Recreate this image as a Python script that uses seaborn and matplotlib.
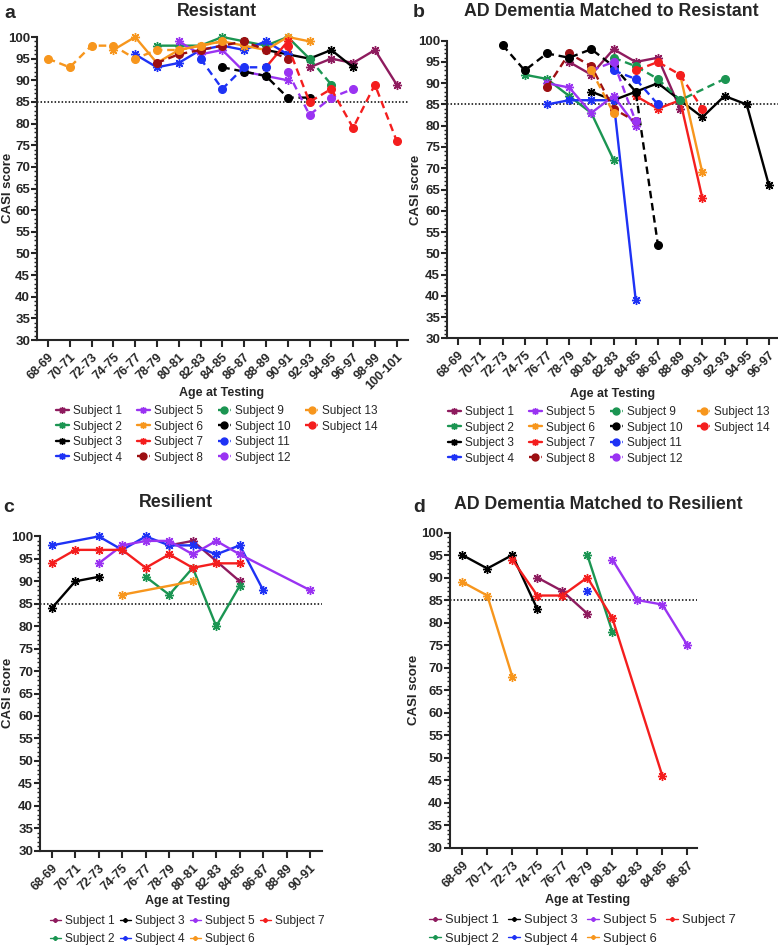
import pandas as pd
import numpy as np
import matplotlib.pyplot as plt
from matplotlib.ticker import MultipleLocator
from matplotlib.lines import Line2D
import seaborn as sns

sns.set_style('ticks')
plt.rcParams['font.family'] = ['Liberation Sans', 'DejaVu Sans']

# age bins on the x axis
ages_all = ['68-69', '70-71', '72-73', '74-75', '76-77', '78-79', '80-81', '82-83',
            '84-85', '86-87', '88-89', '90-91', '92-93', '94-95', '96-97', '98-99', '100-101']
ages_a = ages_all
ages_b = ages_all[:15]
ages_c = ages_all[:12]
ages_d = ages_all[:10]

# a: Resistant
res_ages = {
    1: ['92-93', '94-95', '96-97', '98-99', '100-101'],
    2: ['78-79', '80-81', '82-83', '84-85', '86-87', '88-89', '90-91', '92-93'],
    3: ['88-89', '90-91', '92-93', '94-95', '96-97'],
    4: ['76-77', '78-79', '80-81', '82-83', '84-85', '86-87', '88-89', '90-91'],
    5: ['80-81', '82-83', '84-85', '86-87', '88-89', '90-91'],
    6: ['74-75', '76-77', '78-79', '80-81', '82-83', '84-85', '86-87', '88-89', '90-91', '92-93'],
    7: ['88-89', '90-91'],
    8: ['78-79', '80-81', '82-83', '84-85', '86-87', '88-89', '90-91'],
    9: ['92-93', '94-95'],
    10: ['84-85', '86-87', '88-89', '90-91', '92-93'],
    11: ['82-83', '84-85', '86-87', '88-89'],
    12: ['90-91', '92-93', '94-95', '96-97'],
    13: ['68-69', '70-71', '72-73', '74-75', '76-77', '78-79', '80-81', '82-83', '84-85'],
    14: ['90-91', '92-93', '94-95', '96-97', '98-99', '100-101'],
}
res_scores = {
    1: [93, 95, 94, 97, 89],
    2: [98, 98, 98, 100, 99, 98, 100, 95],
    3: [97, 96, 95, 97, 93],
    4: [96, 93, 94, 97, 98, 97, 99, 96],
    5: [99, 96, 97, 92, 91, 90],
    6: [97, 100, 94, 97, 98, 99, 98, 97, 100, 99],
    7: [93, 99],
    8: [94, 96, 97, 98, 99, 97, 95],
    9: [95, 89],
    10: [93, 92, 91, 86, 86],
    11: [95, 88, 93, 93],
    12: [92, 82, 86, 88],
    13: [95, 93, 98, 98, 95, 97, 97, 98, 99],
    14: [98, 85, 88, 79, 89, 76],
}

# b: AD dementia matched to resistant
adr_ages = {
    1: ['78-79', '80-81', '82-83', '84-85', '86-87', '88-89'],
    2: ['74-75', '76-77', '78-79', '80-81', '82-83'],
    3: ['80-81', '82-83', '84-85', '86-87', '88-89', '90-91', '92-93', '94-95', '96-97'],
    4: ['76-77', '78-79', '80-81', '82-83', '84-85'],
    5: ['76-77', '78-79', '80-81', '82-83', '84-85'],
    6: ['88-89', '90-91'],
    7: ['84-85', '86-87', '88-89', '90-91'],
    8: ['76-77', '78-79', '80-81', '82-83', '84-85'],
    9: ['82-83', '84-85', '86-87', '88-89', '92-93'],
    10: ['72-73', '74-75', '76-77', '78-79', '80-81', '82-83', '84-85', '86-87'],
    11: ['82-83', '84-85', '86-87'],
    12: ['80-81', '82-83', '84-85'],
    13: ['80-81', '82-83'],
    14: ['84-85', '86-87', '88-89', '90-91'],
}
adr_scores = {
    1: [95, 92, 98, 95, 96, 84],
    2: [92, 91, 87, 83, 72],
    3: [88, 86, 88, 90, 86, 82, 87, 85, 66],
    4: [85, 86, 86, 86, 39],
    5: [90, 89, 83, 87, 80],
    6: [92, 69],
    7: [87, 84, 86, 63],
    8: [89, 97, 94, 84, 81],
    9: [96, 94, 91, 86, 91],
    10: [99, 93, 97, 96, 98, 94, 88, 52],
    11: [93, 91, 85],
    12: [93, 95, 81],
    13: [93, 83],
    14: [93, 95, 92, 84],
}

# c: Resilient
resil_ages = {
    1: ['78-79', '80-81', '84-85'],
    2: ['76-77', '78-79', '80-81', '82-83', '84-85'],
    3: ['68-69', '70-71', '72-73'],
    4: ['68-69', '72-73', '74-75', '76-77', '78-79', '80-81', '82-83', '84-85', '86-87'],
    5: ['72-73', '74-75', '76-77', '78-79', '80-81', '82-83', '84-85', '90-91'],
    6: ['74-75', '80-81'],
    7: ['68-69', '70-71', '72-73', '74-75', '76-77', '78-79', '80-81', '82-83', '84-85'],
}
resil_scores = {
    1: [98, 99, 90],
    2: [91, 87, 93, 80, 89],
    3: [84, 90, 91],
    4: [98, 100, 97, 100, 98, 98, 96, 98, 88],
    5: [94, 98, 99, 99, 96, 99, 96, 88],
    6: [87, 90],
    7: [94, 97, 97, 97, 93, 96, 93, 94, 94],
}

# d: AD dementia matched to resilient
adl_ages = {
    1: ['74-75', '76-77', '78-79'],
    2: ['78-79', '80-81'],
    3: ['68-69', '70-71', '72-73', '74-75'],
    4: ['78-79'],
    5: ['80-81', '82-83', '84-85', '86-87'],
    6: ['68-69', '70-71', '72-73'],
    7: ['72-73', '74-75', '76-77', '78-79', '80-81', '84-85'],
}
adl_scores = {
    1: [90, 87, 82],
    2: [95, 78],
    3: [95, 92, 95, 83],
    4: [87],
    5: [94, 85, 84, 75],
    6: [89, 86, 68],
    7: [94, 86, 86, 90, 81, 46],
}

colors = {1: '#8E1B5E', 2: '#1B9552', 3: '#000000', 4: '#1E32F5', 5: '#9A33F2',
          6: '#F7961D', 7: '#F41E1E', 8: '#9C0F12', 9: '#1B9552', 10: '#000000',
          11: '#1E32F5', 12: '#9A33F2', 13: '#F7961D', 14: '#F41E1E'}
ASTER = (8, 2, 0)
DASH = (0, (3.2, 2.0))

W, H = 778, 952
fig = plt.figure(figsize=(W / 100, H / 100), dpi=100)


def rect(l, t, r, b):
    return [l / W, 1 - b / H, (r - l) / W, (b - t) / H]


def draw(ax, ages, subj_ages, subj_scores, xmax, ms):
    rows = []
    for s in subj_ages:
        for a, v in zip(subj_ages[s], subj_scores[s]):
            rows.append({'Subject': s, 'pos': ages.index(a), 'CASI': v})
    df = pd.DataFrame(rows)
    for s, sub in df.groupby('Subject', sort=False):
        dashed = s > 7
        sns.lineplot(data=sub, x='pos', y='CASI', ax=ax, estimator=None, sort=False,
                     color=colors[s], marker='o' if dashed else ASTER,
                     markersize=ms if dashed else ms + 1, markeredgecolor=colors[s],
                     markeredgewidth=1.0, linestyle=DASH if dashed else '-',
                     linewidth=1.7, clip_on=False, legend=False)
    ax.axhline(85, color='black', ls=(0, (1, 1.3)), lw=1.1, zorder=0)
    ax.set_xlim(-0.5, xmax)
    ax.set_ylim(30, 100)
    ax.set_xticks(range(len(ages)))
    ax.set_xticklabels(ages, rotation=45, ha='right', rotation_mode='anchor',
                       fontweight='bold', fontsize=9)
    ax.set_yticks(range(30, 101, 5))
    ax.yaxis.set_minor_locator(MultipleLocator(1))
    for lab in ax.get_yticklabels():
        lab.set_fontweight('bold')
    ax.tick_params(axis='y', which='major', length=4, width=1.5, labelsize=9.5, pad=1)
    ax.tick_params(axis='y', which='minor', length=2, width=1)
    ax.tick_params(axis='x', length=5, width=1.5, pad=3)
    sns.despine(ax=ax)
    for sp in ['left', 'bottom']:
        ax.spines[sp].set_linewidth(1.5)
    ax.set_xlabel('')
    ax.set_ylabel('')


def handles(subjects, ms, lw):
    out = []
    for s in subjects:
        dashed = s > 7
        out.append(Line2D([], [], color=colors[s], marker='o' if dashed else ASTER,
                          markersize=ms, markeredgecolor=colors[s], markeredgewidth=1.0,
                          linestyle=DASH if dashed else '-', linewidth=lw,
                          label='Subject %d' % s))
    return out


def labels(ax, letter, lpos, title, tpos, ylpos, xlpos):
    fig.text(lpos[0] / W, 1 - lpos[1] / H, letter, fontsize=14, fontweight='bold',
             ha='left', va='baseline')
    fig.text(tpos[0] / W, 1 - tpos[1] / H, title, fontsize=12.8, fontweight='bold',
             ha='center', va='baseline')
    fig.text(ylpos[0] / W, 1 - ylpos[1] / H, 'CASI score', fontsize=9.5, fontweight='bold',
             rotation=90, ha='center', va='center')
    fig.text(xlpos[0] / W, 1 - xlpos[1] / H, 'Age at Testing', fontsize=9,
             fontweight='bold', ha='center', va='center')


ax_a = fig.add_axes(rect(37, 37, 407.6, 340))
draw(ax_a, ages_a, res_ages, res_scores, 16.5, 5.5)
labels(ax_a, 'a', (4, 18), 'Resistant', (217, 16), (8, 188), (222, 393))

ax_b = fig.add_axes(rect(447, 40.7, 777.8, 338.3))
draw(ax_b, ages_b, adr_ages, adr_scores, 14.4, 5.5)
labels(ax_b, 'b', (413, 17), 'AD Dementia Matched to Resistant', (611, 16), (416, 190), (613, 394))

ax_c = fig.add_axes(rect(40, 536.4, 322, 850.7))
draw(ax_c, ages_c, resil_ages, resil_scores, 11.5, 5.5)
labels(ax_c, 'c', (3, 512), 'Resilient', (176, 507), (8, 693), (188, 901))

ax_d = fig.add_axes(rect(449.8, 532.5, 697.3, 847.7))
draw(ax_d, ages_d, adl_ages, adl_scores, 9.4, 5.5)
labels(ax_d, 'd', (413, 512), 'AD Dementia Matched to Resilient', (598, 509), (414, 690), (588, 900))

# legends
blank = Line2D([], [], linestyle='none', marker='none', label='')
leg_kw = dict(loc='upper left', frameon=False, borderpad=0, borderaxespad=0,
              fontsize=8.5, handlelength=1.1, handletextpad=0.35,
              columnspacing=1.25, labelspacing=0.3)
fig.legend(handles=handles(range(1, 15), 5, 1.7) + [blank, blank], ncol=4,
           bbox_to_anchor=(56 / W, 1 - 405 / H), **leg_kw)
fig.legend(handles=handles(range(1, 15), 5, 1.7) + [blank, blank], ncol=4,
           bbox_to_anchor=(448 / W, 1 - 406 / H), **leg_kw)

leg_kw2 = dict(loc='upper left', frameon=False, borderpad=0, borderaxespad=0,
               fontsize=8.6, handlelength=0.9, handletextpad=0.35,
               columnspacing=0.45, labelspacing=0.5)
fig.legend(handles=handles(range(1, 8), 3, 1.0), ncol=4,
           bbox_to_anchor=(50 / W, 1 - 915 / H), **leg_kw2)
leg_kw2.update(fontsize=9.3, columnspacing=0.7)
fig.legend(handles=handles(range(1, 8), 3, 1.0), ncol=4,
           bbox_to_anchor=(429 / W, 1 - 914 / H), **leg_kw2)

fig.savefig('out.png', dpi=100)
